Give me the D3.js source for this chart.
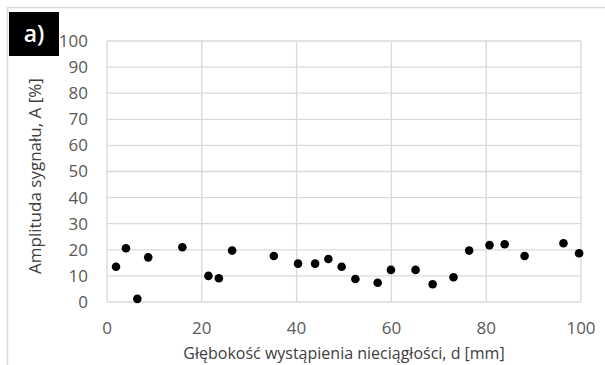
<!DOCTYPE html>
<html>
<head>
<meta charset="utf-8">
<script src="https://cdn.jsdelivr.net/npm/d3@7"></script>
<style>
  body { margin: 0; background: #fff; }
  svg { display: block; font-family: "Open Sans", "Liberation Sans", sans-serif; }
</style>
</head>
<body>
<svg width="605" height="365"></svg>
<script>
// depth d [mm] vs signal amplitude A [%]
const depth = [1.9, 4.0, 6.4, 8.7, 15.9, 21.4, 23.6, 26.4, 35.2, 40.3, 43.9, 46.7, 49.5,
  52.4, 57.1, 59.9, 65.1, 68.7, 73.1, 76.4, 80.7, 83.9, 88.1, 96.3, 99.6];
const amplitude = [13.5, 20.6, 1.2, 17.1, 21.0, 10.0, 9.1, 19.7, 17.6, 14.7, 14.7, 16.5, 13.5,
  8.8, 7.4, 12.3, 12.3, 6.8, 9.5, 19.7, 21.8, 22.1, 17.6, 22.5, 18.7];
const xTicks = [0, 20, 40, 60, 80, 100];
const yTicks = [0, 10, 20, 30, 40, 50, 60, 70, 80, 90, 100];

const svg = d3.select('svg');
const plotL = 107, plotR = 581, plotT = 41, plotB = 302;

const x = d3.scaleLinear().domain([0, 100]).range([plotL, plotR]);
const y = d3.scaleLinear().domain([0, 100]).range([plotB, plotT]);

// outer frame (top + left only)
svg.append('path')
  .attr('d', 'M7.5,365 V7.5 H605')
  .attr('fill', 'none').attr('stroke', '#d9d9d9').attr('stroke-width', 1.5);

// gridlines
svg.append('g').selectAll('line').data(yTicks).enter().append('line')
  .attr('x1', plotL).attr('x2', plotR)
  .attr('y1', d => y(d)).attr('y2', d => y(d))
  .attr('stroke', '#d9d9d9').attr('stroke-width', 1.3);
svg.append('g').selectAll('line').data(xTicks).enter().append('line')
  .attr('y1', plotT).attr('y2', plotB)
  .attr('x1', d => x(d)).attr('x2', d => x(d))
  .attr('stroke', '#d9d9d9').attr('stroke-width', 1.3);

// tick labels
svg.append('g').selectAll('text').data(yTicks).enter().append('text')
  .attr('x', 88).attr('y', d => y(d)).attr('dy', '0.35em')
  .attr('text-anchor', 'end')
  .attr('fill', '#595959').attr('font-size', 17)
  .text(d => d);
svg.append('g').selectAll('text').data(xTicks).enter().append('text')
  .attr('x', d => x(d)).attr('y', 328).attr('dy', '0.35em')
  .attr('text-anchor', 'middle')
  .attr('fill', '#595959').attr('font-size', 17)
  .text(d => d);

// axis titles
svg.append('text')
  .attr('transform', 'translate(35,176) rotate(-90)')
  .attr('text-anchor', 'middle').attr('dy', '0.35em')
  .attr('fill', '#404040').attr('font-size', 17)
  .text('Amplituda sygnału, A [%]');
svg.append('text')
  .attr('x', 344).attr('y', 353).attr('dy', '0.35em')
  .attr('text-anchor', 'middle')
  .attr('fill', '#404040').attr('font-size', 16)
  .text('Głębokość wystąpienia nieciągłości, d [mm]');

// points
svg.append('g').selectAll('circle').data(depth).enter().append('circle')
  .attr('cx', d => x(d))
  .attr('cy', (d, i) => y(amplitude[i]))
  .attr('r', 4.3)
  .attr('fill', '#000');

// panel label
svg.append('rect').attr('x', 9).attr('y', 12).attr('width', 50).attr('height', 44).attr('fill', '#000');
svg.append('text')
  .attr('x', 34).attr('y', 34).attr('dy', '0.35em')
  .attr('text-anchor', 'middle')
  .attr('fill', '#fff').attr('font-size', 23).attr('font-weight', 600)
  .text('a)');
</script>
</body>
</html>
